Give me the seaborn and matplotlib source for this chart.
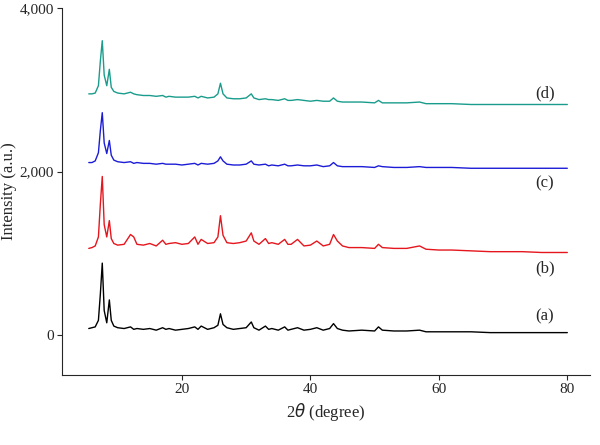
import matplotlib
matplotlib.use("Agg")
import matplotlib.pyplot as plt
import seaborn as sns
import pandas as pd

two_theta = [5.5,6,6.5,7,7.3,7.6,7.9,8.3,8.7,9.0,9.4,10,11,12,12.5,13,14,15,16,17,17.5,18,19,20,21,22,22.5,23,24,25,25.6,26,26.4,27,28,29,30,30.8,31.2,32,33,33.5,34,35,36,36.5,37,38,39,40,41,42,43,43.6,44.2,45,46,48,50,50.6,51.2,53,55,57,58,60,62,65,68,70,73,76,80]
int_a = [80,90,100,180,500,880,300,150,430,180,110,90,80,100,70,80,70,80,60,90,70,80,60,70,80,100,70,110,70,90,120,260,130,90,70,80,90,160,90,60,110,70,80,60,100,60,70,90,60,70,90,60,80,140,80,60,50,60,50,100,60,50,50,60,40,40,40,40,30,30,30,30,30]
int_b = [60,70,90,200,600,940,350,200,400,180,120,100,110,230,200,110,100,120,90,160,110,120,130,110,120,200,110,170,120,130,200,460,220,130,120,130,150,250,150,110,180,120,130,110,170,110,110,170,90,100,150,90,110,230,150,90,70,70,60,110,70,60,60,90,50,40,40,30,20,20,20,10,10]
int_c = [110,110,130,230,500,720,350,220,380,200,140,120,110,120,100,110,100,100,90,100,90,90,90,80,90,100,80,100,90,100,130,180,130,90,80,80,90,130,90,80,90,70,80,70,90,70,70,80,70,70,80,60,70,110,70,60,60,60,50,70,60,50,50,60,50,50,50,40,40,40,40,40,40]
int_d = [150,150,160,250,550,800,380,250,450,230,180,160,150,170,150,140,130,130,120,130,110,120,110,110,110,120,100,120,100,110,150,280,150,100,90,90,100,150,100,80,90,80,80,70,90,70,70,80,70,60,70,60,60,100,60,50,50,50,40,70,40,40,40,50,30,30,30,20,20,20,20,20,20]
offsets = [0, 1000, 2000, 2800]
labels = ["(a)", "(b)", "(c)", "(d)"]
colors = ["#000000", "#e5161d", "#1c1cd6", "#1a9c8c"]
label_pos = [(76.5, 230), (76.5, 810), (76.5, 1850), (76.5, 2960)]

sns.set_style("ticks")
plt.rcParams['font.family'] = ['Liberation Serif', 'DejaVu Serif']
fig, ax = plt.subplots(figsize=(6, 4.45), dpi=100)
fig.subplots_adjust(left=0.103, right=0.983, top=0.982, bottom=0.157)

for vals, off, col in zip([int_a, int_b, int_c, int_d], offsets, colors):
    df = pd.DataFrame({"x": two_theta, "y": [v + off for v in vals]})
    sns.lineplot(data=df, x="x", y="y", color=col, lw=1.0, ax=ax)
for lab, (lx, ly) in zip(labels, label_pos):
    ax.text(lx, ly, lab, ha="center", va="center", fontsize=12)

ax.set_xlim(1.3, 83.5)
ax.set_ylim(-490, 4000)
ax.set_xticks([20, 40, 60, 80])
ax.set_yticks([0, 2000, 4000])
ax.set_yticklabels(["0", "2,000", "4,000"])
ax.set_xlabel("2$\\it{θ}$ (degree)", fontsize=12)
ax.set_ylabel("Intensity (a.u.)", fontsize=12, labelpad=2)
ax.tick_params(labelsize=11, pad=2)
sns.despine(ax=ax)
fig.savefig("out.png")
